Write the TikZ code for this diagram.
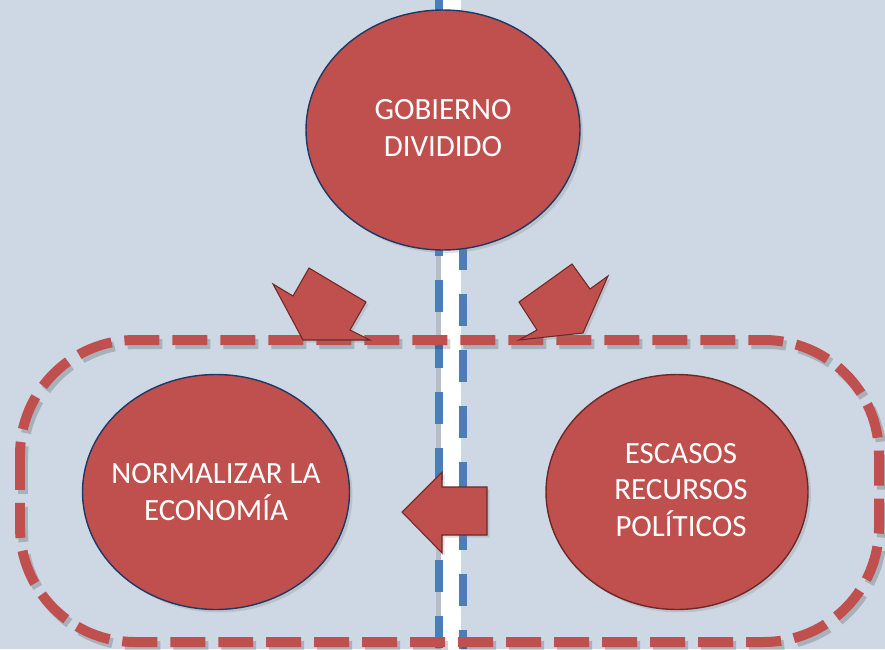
\documentclass[tikz,border=0pt]{standalone}
\usepackage{fontspec}
\setmainfont{Carlito}
\usetikzlibrary{positioning}
\usetikzlibrary{shapes.geometric, shadows, backgrounds}

\definecolor{slate}{RGB}{205,216,228}
\definecolor{brick}{RGB}{192,80,77}
\definecolor{navy}{RGB}{31,56,100}
\definecolor{maroon}{RGB}{110,40,38}
\definecolor{steel}{RGB}{74,126,187}

\begin{document}
\begin{tikzpicture}[x=0.02cm, y=-0.02cm]
    \tikzset{
    bubble/.style=
    {
        ellipse,
        draw=navy,
        line width=0.8pt,
        fill=brick,
        inner sep=0pt,
        drop shadow={opacity=0.25, shadow xshift=0.06cm, shadow yshift=-0.06cm}
    },
    caption/.style=
    {
        text=white,
        align=center,
        font=\fontsize{17.6}{20.8}\selectfont
    },
    blockarrow/.style=
    {
        fill=brick,
        draw=maroon,
        line width=0.6pt,
        drop shadow={opacity=0.25, shadow xshift=0.05cm, shadow yshift=-0.05cm}
    },
    frame/.style=
    {
        draw=brick,
        line width=0.2cm,
        dash pattern=on 0.7cm off 0.26cm,
        rounded corners=2.3cm
    },
    lane/.style=
    {
        draw=steel,
        line width=0.16cm,
        dash pattern=on 0.64cm off 0.48cm
    }
}

  % background
  \fill[slate] (0,0) rectangle (885,649);
  \useasboundingbox (0,0) rectangle (885,649);

  % divider
  \fill[black, opacity=0.12] (436,0) rectangle (443,649);
  \fill[white] (441,0) rectangle (461,649);
  \coordinate (lanetopA) at (439,0);
  \coordinate (lanebotA) at (439,649);
  \coordinate (lanetopB) at (463,0);
  \coordinate (lanebotB) at (463,649);
  \draw[lane] (lanetopA) -- (lanebotA);
  \draw[lane, dash phase=0.84cm] (lanetopB) -- (lanebotB);

  % dashed frame
  \draw[frame, draw=black, opacity=0.18, shift={(3,4)}] (20,340) rectangle (879,642);
  \draw[frame] (20,340) rectangle (879,642);

  \node[bubble, minimum width=5.48cm, minimum height=4.8cm] (gobierno) at (443,130) {};
  \node[bubble, minimum width=5.34cm, minimum height=4.7cm] (economia) at (216,492) {};
  \node[bubble, draw=maroon, minimum width=5.24cm, minimum height=4.7cm] (recursos) at (677,492) {};

  \node[caption] (gobiernotxt) at ([yshift=0.04cm]gobierno.center) {GOBIERNO\\DIVIDIDO};
  \node[caption] (economiatxt) at (economia) {NORMALIZAR LA\\ECONOMÍA};
  \node[caption] (recursostxt) at ([xshift=0.08cm,yshift=0.04cm]recursos.center) {ESCASOS\\RECURSOS\\POLÍTICOS};

  % arrows
  \draw[blockarrow] (273,284) -- (293,296) -- (309,268) -- (366,302) -- (350,330) -- (370,340) -- (303,340) -- cycle;
  \draw[blockarrow] (608,276) -- (590,289) -- (572,264) -- (519,302) -- (537,330) -- (519,340) -- (583,333) -- cycle;
  \draw[blockarrow] (402,512) -- (442,472) -- (442,487) -- (487,487) -- (487,535) -- (442,535) -- (442,553) -- cycle;

\end{tikzpicture}
\end{document}
